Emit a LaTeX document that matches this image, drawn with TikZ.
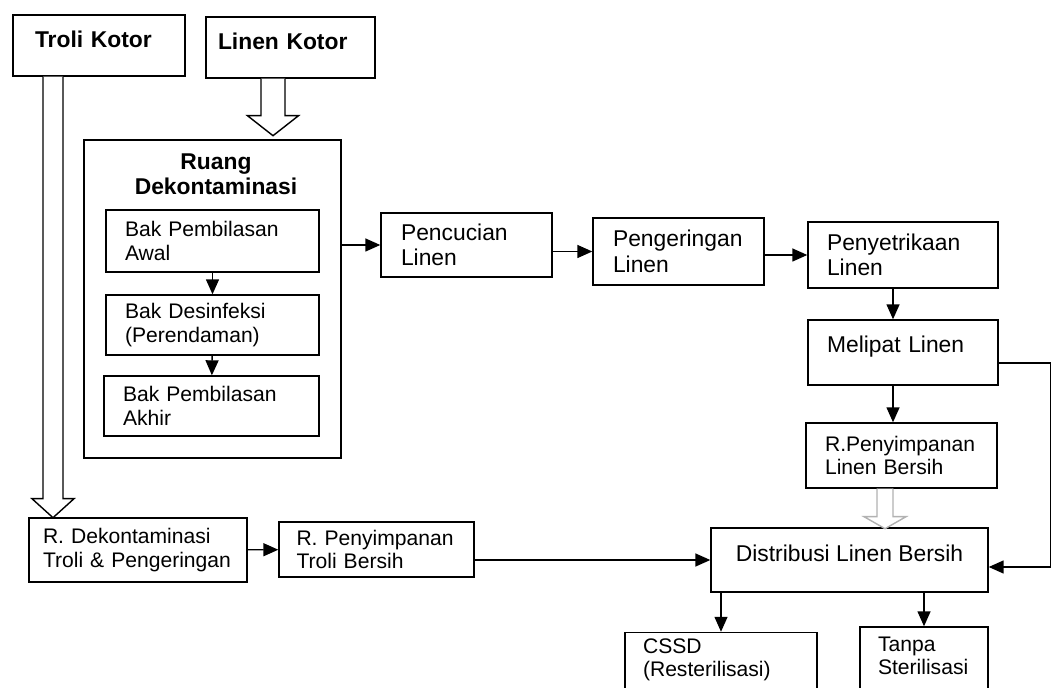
\documentclass[tikz,border=0pt]{standalone}
\usepackage{fontspec}
\setmainfont{Liberation Sans}
\usetikzlibrary{arrows.meta, calc}

\newcommand{\boxfont}{\fontsize{13}{14.5}\selectfont}
\newcommand{\smallboxfont}{\fontsize{12}{13.5}\selectfont}

\begin{document}
\begin{tikzpicture}[x=0.02cm, y=-0.02cm, >={Triangle[length=3mm,width=2.6mm]},
  box/.style={draw, thick, align=left, inner xsep=0.38cm, font=\boxfont},
  hollow/.style={draw, thick, fill=white}]
\useasboundingbox (0,0) rectangle (1053,688);
\clip (0,0) rectangle (1053,688);

\node(troli)[box, font=\boxfont\bfseries, text width=2.56cm, inner xsep=0.44cm, minimum height=1.22cm] at (99,45.5) {Troli Kotor\\[-7.5pt]~};
\node(linen)[box, font=\boxfont\bfseries, text width=2.9cm, inner xsep=0.24cm, minimum height=1.22cm] at (290.5,47.5) {Linen Kotor\\[-7.5pt]~};

\node(ruang)[box, minimum width=5.14cm, minimum height=6.36cm] at (212.5,299) {};
\node(ruangtitle)[font=\boxfont\bfseries, align=center] at (216,174) {Ruang\\Dekontaminasi};
\node(bak1)[box, font=\smallboxfont, text width=3.5cm, minimum height=1.24cm] at (212.5,241) {Bak Pembilasan\\Awal};
\node(bak2)[box, font=\smallboxfont, text width=3.5cm, minimum height=1.2cm] at (212.5,325) {Bak Desinfeksi\\(Perendaman)};
\node(bak3)[box, font=\smallboxfont, text width=3.54cm, minimum height=1.2cm] at (211.5,406) {Bak Pembilasan\\Akhir};

\node(cuci)[box, text width=2.62cm, inner xsep=0.4cm, minimum height=1.28cm] at (466.5,245) {Pencucian\\Linen};
\node(kering)[box, text width=2.62cm, inner xsep=0.4cm, minimum height=1.34cm] at (678.5,251.5) {Pengeringan\\Linen};
\node(setrika)[box, text width=3.04cm, minimum height=1.32cm] at (903,255) {Penyetrikaan\\Linen};
\node(lipat)[box, text width=3.04cm, minimum height=1.3cm] at (903,352.5) {Melipat Linen\\[-4.9pt]~};
\node(simpanlinen)[box, font=\smallboxfont, text width=3.06cm, minimum height=1.3cm] at (901.5,455.5) {R.Penyimpanan\\Linen Bersih};

\node(dektroli)[box, font=\smallboxfont, text width=3.8cm, inner xsep=0.28cm, minimum height=1.28cm] at (138,550) {R. Dekontaminasi\\Troli \& Pengeringan};
\node(simpantroli)[box, font=\smallboxfont, text width=3.2cm, inner xsep=0.35cm, minimum height=1.1cm] at (376.5,549.5) {R. Penyimpanan\\Troli Bersih};
\node(distribusi)[box, align=center, minimum width=5.54cm, minimum height=1.28cm] at (849.5,560) {Distribusi Linen Bersih\\[-6.3pt]~};
\node(cssd)[box, font=\smallboxfont, text width=3.12cm, inner xsep=0.36cm, minimum height=1.34cm] at (721,666.5) {CSSD\\(Resterilisasi)\\[-3.3pt]~};
\node(tanpa)[box, font=\smallboxfont, text width=1.84cm, inner xsep=0.36cm, minimum height=1.36cm] at (924,661) {Tanpa\\Sterilisasi\\[-7.5pt]~};

\draw[->, thick] (bak1) -- (bak2);
\draw[->, thick] (bak2) -- (bak3);
\draw[->, thick] (ruang.east |- cuci) -- (cuci);
\draw[->, thick] (cuci.east |- kering) -- (kering);
\draw[->, thick] (kering.east |- setrika) -- (setrika);
\draw[->, thick] ([xshift=-0.2cm]setrika.south) -- ([xshift=-0.2cm]lipat.north);
\draw[->, thick] ([xshift=-0.2cm]lipat.south) -- ([xshift=-0.2cm]lipat.south |- simpanlinen.north);
\draw[->, thick] (dektroli) -- (simpantroli);
\draw[->, thick] (simpantroli.east |- distribusi) -- (distribusi);
\draw[->, thick] ($(lipat.east)+(0,10.5)$) -- ++(52,0) |- ($(distribusi.east)+(0,7)$);
\draw[->, thick] (distribusi.south -| cssd) -- (cssd);
\draw[->, thick] (distribusi.south -| tanpa) -- (tanpa);

% hollow arrows
\draw[hollow] ($(linen.south)+(-29.5,0)$) -- ++(0,37) -- ++(-13.5,0) -- ++(25.5,20) -- ++(25.5,-20) -- ++(-13.5,0) -- ++(0,-37);
\draw[hollow] ($(troli.south)+(-56,0)$) -- ++(0,422) -- ++(-11,0) -- ++(21,19) -- ++(21,-19) -- ++(-11,0) -- ++(0,-422);
\draw[hollow, draw=gray!60] ($(simpanlinen.south)+(-24.5,0)$) -- ++(0,28) -- ++(-13,0) -- ++(21,12) -- ++(21,-12) -- ++(-13,0) -- ++(0,-28);
\end{tikzpicture}
\end{document}
